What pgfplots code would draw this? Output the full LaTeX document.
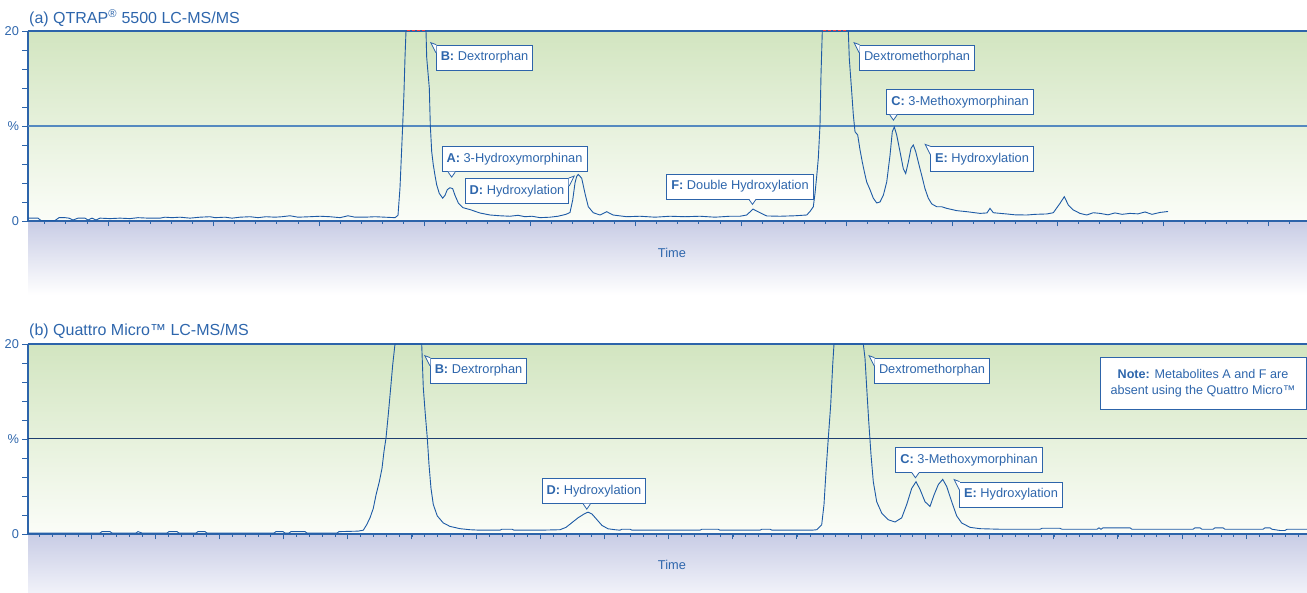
\documentclass[border=0pt]{standalone}
\usepackage{fontspec}
\setmainfont{Liberation Sans}
\usepackage{pgfplots}
\pgfplotsset{compat=1.18}
\definecolor{axisblue}{HTML}{2D64AA}
\definecolor{curveblue}{HTML}{1D5AA5}
\definecolor{textblue}{HTML}{2E66AC}
\definecolor{midtop}{HTML}{5589C0}
\definecolor{midbot}{HTML}{1F3E70}
\definecolor{greentop}{HTML}{D2E5C0}
\definecolor{greenbot}{HTML}{FBFDF8}
\definecolor{belowblue}{HTML}{C8CCE5}
\definecolor{belowend}{HTML}{F1F2F9}

\pgfplotsset{
  chrom/.style={
    width=1279pt, height=190pt, scale only axis,
    xmin=28, xmax=1307, ymin=0, ymax=20,
    axis lines*=left,
    axis line style={draw=axisblue, line width=1.2pt},
    tick align=outside,
    xticklabels={},
    ytick={0,2,...,20}, yticklabels={0,,,,,\%,,,,,20},
    major tick length=5.5pt, minor tick length=3pt,
    tick style={draw=axisblue, line width=0.8pt},
    yticklabel style={text=textblue, font=\fontsize{12.8}{14}\selectfont},
    axis background/.style={shade, top color=greentop, bottom color=greenbot},
    clip=false,
  },
}
\tikzset{
  lbl/.style={rectangle, draw=axisblue, line width=0.8pt, fill=white,
    text=textblue, font=\fontsize{12.8}{15}\selectfont, inner xsep=4.5pt,
    minimum height=25pt},
}
% tail below a box, #1 node, #2 offset from left edge
\newcommand{\tailbelow}[2]{%
  \fill[white] ([xshift={(#2-3.5)*1pt}, yshift=0.6pt]#1.south west) -- ([xshift={(#2)*1pt}, yshift=-5pt]#1.south west) -- ([xshift={(#2+3.5)*1pt}, yshift=0.6pt]#1.south west) -- cycle;
  \draw[axisblue, line width=0.8pt, line join=miter] ([xshift={(#2-3.5)*1pt}]#1.south west) -- ([xshift={(#2)*1pt}, yshift=-5pt]#1.south west) -- ([xshift={(#2+3.5)*1pt}]#1.south west);}
% tail at the top-left corner
\newcommand{\tailnw}[1]{%
  \fill[white] ([xshift=0.6pt, yshift=-0.6pt]#1.north west) -- ([xshift=-5pt, yshift=2pt]#1.north west) -- ([xshift=0.6pt, yshift=-8pt]#1.north west) -- cycle;
  \draw[axisblue, line width=0.8pt] ([xshift=0.4pt]#1.north west) -- ([xshift=-5pt, yshift=2pt]#1.north west) -- ([yshift=-8pt]#1.north west);}
% tail at the top-right corner
\newcommand{\tailne}[1]{%
  \fill[white] ([xshift=-0.6pt, yshift=-0.6pt]#1.north east) -- ([xshift=5pt, yshift=2pt]#1.north east) -- ([xshift=-0.6pt, yshift=-8pt]#1.north east) -- cycle;
  \draw[axisblue, line width=0.8pt] ([xshift=-0.4pt]#1.north east) -- ([xshift=5pt, yshift=2pt]#1.north east) -- ([yshift=-8pt]#1.north east);}

\begin{document}
\begin{tikzpicture}[x=1pt,y=1pt]
\useasboundingbox (0,0) rectangle (1307,593);
% shaded time band below each axis
\shade[top color=belowblue, bottom color=white] (28,298) rectangle (1307,372);
\shade[top color=belowblue, bottom color=belowend] (28,0) rectangle (1307,59);

% titles
\node[anchor=base west, inner sep=0pt, text=textblue, font=\fontsize{16}{18}\selectfont] at (29,569.7) {(a) QTRAP\textsuperscript{®} 5500 LC-MS/MS};
\node[anchor=base west, inner sep=0pt, text=textblue, font=\fontsize{16}{18}\selectfont] at (29,257) {(b) Quattro Micro™ LC-MS/MS};

% ---------------- top panel ----------------
\begin{axis}[chrom, at={(28pt,372pt)}, anchor=south west,
  xtick={108,213.5,...,1307}, minor xtick={44.7,65.8,...,1307}]
\draw[midtop, line width=1.2pt] (axis cs:28,10) -- (axis cs:1307,10);
\draw[axisblue, line width=1.2pt] (rel axis cs:0,1) -- (rel axis cs:1,1);
\addplot[curveblue, line width=0.9pt] coordinates {
(28,0.3) (38,0.3) (41,0.05) (55,0.05) (59,0.35) (65,0.35) (69,0.3) (73,0.1) (78,0.3) (85,0.3) (88,0.1) (92,0.3) (96,0.1) (100,0.3) (110,0.25) (120,0.3) (130,0.25) (138,0.35) (148,0.3) (160,0.3) (165,0.4) (172,0.35) (180,0.4) (190,0.3) (200,0.4) (210,0.45) (215,0.35) (225,0.4) (232,0.3) (240,0.4) (250,0.45) (258,0.35) (266,0.45) (275,0.4) (282,0.45) (290,0.55) (298,0.4) (310,0.45) (320,0.5) (330,0.45) (340,0.35) (348,0.55) (355,0.4) (365,0.4) (375,0.45) (385,0.4) (395,0.35) (398,0.6) (400,3.5) (402.7,10.1) (404,13.6) (405,17.2) (406,20) (426,20) (426.7,17.2) (429.3,14) (430.3,10.1) (431.7,7.3) (433.3,5.9) (435,4.8) (436.7,3.8) (439.3,2.9) (442.7,2.4) (445,2.7) (447.3,3.3) (450,3.5) (452.7,3.4) (455,2.7) (458.3,1.9) (463,1.4) (470,1.2) (480,0.84) (490,0.63) (500,0.55) (510,0.5) (518,0.6) (525,0.45) (532,0.5) (540,0.35) (550,0.4) (558,0.5) (566,0.7) (570,0.9) (572.7,2.2) (575,4.0) (576.7,4.7) (578.3,4.9) (581.7,4.5) (585,2.9) (588.3,1.5) (593.3,0.87) (600,0.63) (606.7,0.98) (613,0.63) (626.7,0.45) (640,0.5) (655,0.4) (670,0.5) (685,0.45) (700,0.5) (715,0.4) (730,0.5) (740,0.5) (746.7,0.63) (753,1.25) (760,0.87) (766.7,0.53) (780,0.5) (795,0.55) (806.7,0.63) (810,1.0) (813.3,1.5) (815,2.9) (816.7,4.7) (818.3,6.6) (820,10.1) (821,15.4) (822.3,20) (848.3,20) (849.3,17.1) (851.7,13.6) (853.3,11.2) (855,9.4) (857.7,9.05) (860,7.5) (862.3,6.2) (864.3,5.2) (866.7,4.1) (870,3.3) (873.3,2.4) (876.7,1.9) (880,2.0) (883.3,2.7) (886.7,4.1) (890,6.9) (892.3,9.4) (894.3,9.9) (896.7,9.05) (900,7.3) (903.3,5.5) (905.7,5.0) (908.3,6.2) (911,7.65) (913.3,8.0) (915.7,7.3) (918.3,6.2) (921.7,4.8) (925,3.4) (928.3,2.4) (931.7,1.8) (936.7,1.5) (941.7,1.5) (946.7,1.33) (956.7,1.09) (966.7,0.98) (980,0.8) (987,0.85) (990,1.33) (993.3,0.87) (1006.7,0.74) (1015,0.65) (1026.7,0.63) (1035,0.7) (1046.7,0.74) (1053.3,0.87) (1060,1.86) (1064.3,2.56) (1068.3,1.68) (1073.3,1.16) (1080,0.8) (1086.7,0.63) (1093.3,0.87) (1100,0.8) (1108,0.65) (1115,0.85) (1122,0.7) (1130,0.8) (1138,0.75) (1145,0.95) (1152,0.7) (1160,0.9) (1168,1.0)
};
\addplot[red!75!white, densely dashed, line width=1pt] coordinates {(407,20) (425.5,20)};
\addplot[red!75!white, densely dashed, line width=1pt] coordinates {(823,20) (847.5,20)};
\node[lbl] (tB) at (axis cs:484.5,17.2) {\textbf{B:} Dextrorphan};
\node[lbl] (tA) at (axis cs:514.5,6.5) {\textbf{A:} 3-Hydroxymorphinan};
\node[lbl] (tD) at (axis cs:517,3.16) {\textbf{D:} Hydroxylation};
\node[lbl] (tF) at (axis cs:740,3.63) {\textbf{F:} Double Hydroxylation};
\node[lbl] (tX) at (axis cs:917,17.2) {Dextromethorphan};
\node[lbl] (tC) at (axis cs:960,12.5) {\textbf{C:} 3-Methoxymorphinan};
\node[lbl] (tE) at (axis cs:982,6.5) {\textbf{E:} Hydroxylation};
\node[text=textblue, font=\fontsize{12.8}{14}\selectfont] at (rel axis cs:0.5035,0) [yshift=-32pt] {Time};
\end{axis}

% ---------------- bottom panel ----------------
\begin{axis}[chrom, at={(28pt,59pt)}, anchor=south west,
  xtick={91,155.17,...,1307}, minor xtick={39.66,52.5,...,1307}]
\draw[midbot, line width=1pt] (axis cs:28,10) -- (axis cs:1307,10);
\draw[axisblue, line width=1.2pt] (rel axis cs:0,1) -- (rel axis cs:1,1);
\addplot[curveblue, line width=0.9pt] coordinates {
(28,0.1) (100,0.1) (102,0.25) (110,0.25) (112,0.1) (136,0.1) (138,0.25) (142,0.1) (167,0.1) (169,0.25) (177,0.25) (179,0.1) (196,0.1) (198,0.25) (205,0.25) (207,0.1) (274,0.1) (276,0.25) (283,0.25) (285,0.1) (289,0.1) (291,0.25) (305,0.25) (307,0.1) (337,0.1) (339,0.25) (358,0.3) (363.3,0.4) (366.7,0.98) (370,1.7) (373.3,2.7) (376,4.1) (379.3,5.5) (382,6.9) (384,8.7) (386,10.1) (388.3,12.6) (390.7,15.4) (392.7,17.8) (395,20) (421.7,20) (423.3,15.4) (425.3,12.6) (427.3,10.1) (429,7.3) (431,4.8) (433.3,3.1) (437.3,1.9) (443.3,1.16) (450,0.8) (460,0.56) (470,0.45) (480,0.4) (500,0.4) (502,0.5) (512,0.5) (514,0.4) (540,0.4) (560,0.45) (566,0.7) (572,1.2) (578,1.7) (584,2.1) (588,2.3) (592,2.1) (597,1.5) (602,0.9) (608,0.55) (615,0.45) (620,0.4) (622,0.5) (630,0.5) (632,0.4) (700,0.4) (702,0.5) (718,0.5) (720,0.4) (760,0.4) (762,0.5) (770,0.5) (772,0.4) (812,0.4) (816.7,0.45) (821.7,0.98) (824,3.1) (826,6.6) (828.3,10.1) (830.7,13.6) (832.7,17.8) (834,20) (863.3,20) (865,18.5) (866.7,15.4) (868.7,11.9) (871,8.35) (873.3,5.5) (876.7,3.4) (881.7,2.2) (888.3,1.5) (895,1.26) (901.7,1.7) (906.7,3.1) (911.7,4.8) (916,5.5) (920,4.7) (925,3.4) (930,2.9) (934,4.1) (938.3,5.2) (942.7,5.75) (946.7,5.0) (951.7,3.4) (956.7,1.9) (961.7,1.16) (970,0.7) (980,0.56) (1000,0.5) (1040,0.5) (1042,0.6) (1060,0.6) (1062,0.5) (1097,0.5) (1099,0.65) (1101,0.5) (1103,0.65) (1130,0.65) (1132,0.5) (1193,0.5) (1195,0.65) (1200,0.65) (1202,0.5) (1213,0.5) (1215,0.65) (1223,0.65) (1225,0.5) (1263,0.5) (1265,0.65) (1270,0.65) (1272,0.5) (1280,0.37) (1285,0.37) (1287,0.5) (1307,0.5)
};
\node[lbl] (bB) at (axis cs:478.5,17.2) {\textbf{B:} Dextrorphan};
\node[lbl] (bD) at (axis cs:594,4.5) {\textbf{D:} Hydroxylation};
\node[lbl] (bX) at (axis cs:932,17.2) {Dextromethorphan};
\node[lbl] (bC) at (axis cs:969,7.8) {\textbf{C:} 3-Methoxymorphinan};
\node[lbl] (bE) at (axis cs:1011,4.16) {\textbf{E:} Hydroxylation};
\node[draw=axisblue, line width=0.8pt, fill=white, text=textblue, align=center,
  font=\fontsize{12.6}{16}\selectfont, minimum width=206pt, minimum height=52pt]
  at (axis cs:1203,15.9) {\textbf{Note:} Metabolites A and F are\\absent using the Quattro Micro™};
\node[text=textblue, font=\fontsize{12.8}{14}\selectfont] at (rel axis cs:0.5035,0) [yshift=-31pt] {Time};
\end{axis}

% callout tails
\tailnw{tB} \tailbelow{tA}{10} \tailne{tD} \tailbelow{tF}{86}
\tailnw{tX} \tailbelow{tC}{7} \tailnw{tE}
\tailnw{bB} \tailbelow{bD}{45} \tailnw{bX} \tailbelow{bC}{20} \tailnw{bE}
\end{tikzpicture}
\end{document}
